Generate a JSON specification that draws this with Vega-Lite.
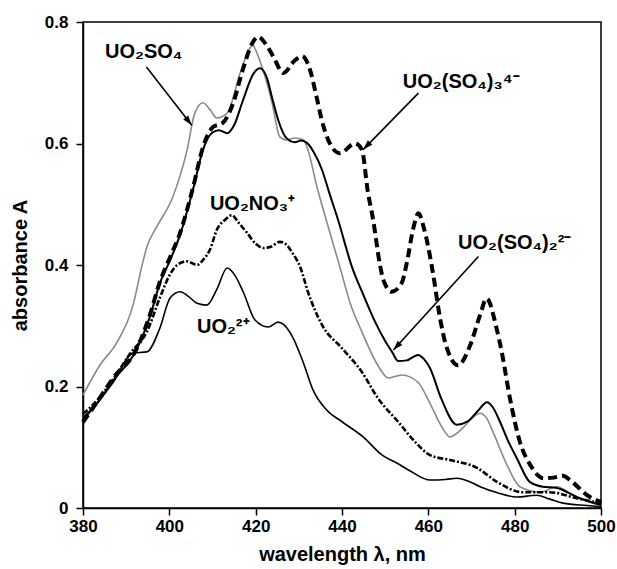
{
  "$schema": "https://vega.github.io/schema/vega-lite/v6.json",
  "width": 518,
  "height": 486,
  "autosize": "none",
  "padding": {"left": 83, "top": 22, "right": 16, "bottom": 61},
  "background": "white",
  "config": {
    "view": {"stroke": "black", "strokeWidth": 1.5},
    "font": "Liberation Sans",
    "axis": {
      "grid": false,
      "labelFlush": false,
      "labelOverlap": false,
      "domainColor": "black",
      "domainWidth": 1.5,
      "tickColor": "black",
      "tickWidth": 1.5,
      "tickSize": 7,
      "labelFont": "Liberation Sans",
      "labelFontWeight": "bold",
      "labelFontSize": 17,
      "labelColor": "black",
      "titleFont": "Liberation Sans",
      "titleFontWeight": "bold",
      "titleFontSize": 20,
      "titleColor": "black"
    }
  },
  "datasets": {
    "curves": [
      {"s": "UO2SO4", "x": 380, "y": 0.186}, {"s": "UO2SO4", "x": 383.9, "y": 0.235}, {"s": "UO2SO4", "x": 387.9, "y": 0.273}, {"s": "UO2SO4", "x": 391.6, "y": 0.334}, {"s": "UO2SO4", "x": 393.7, "y": 0.4}, {"s": "UO2SO4", "x": 394.8, "y": 0.43}, {"s": "UO2SO4", "x": 397.1, "y": 0.463}, {"s": "UO2SO4", "x": 400.8, "y": 0.512}, {"s": "UO2SO4", "x": 404.1, "y": 0.589}, {"s": "UO2SO4", "x": 405.9, "y": 0.65}, {"s": "UO2SO4", "x": 407.8, "y": 0.667}, {"s": "UO2SO4", "x": 409.5, "y": 0.655}, {"s": "UO2SO4", "x": 411, "y": 0.642}, {"s": "UO2SO4", "x": 413.4, "y": 0.65}, {"s": "UO2SO4", "x": 416.4, "y": 0.716}, {"s": "UO2SO4", "x": 418.5, "y": 0.755}, {"s": "UO2SO4", "x": 419.3, "y": 0.762}, {"s": "UO2SO4", "x": 420.5, "y": 0.745}, {"s": "UO2SO4", "x": 421.7, "y": 0.721}, {"s": "UO2SO4", "x": 423.8, "y": 0.667}, {"s": "UO2SO4", "x": 425.6, "y": 0.611}, {"s": "UO2SO4", "x": 427, "y": 0.606}, {"s": "UO2SO4", "x": 429.1, "y": 0.609}, {"s": "UO2SO4", "x": 431, "y": 0.606}, {"s": "UO2SO4", "x": 432.5, "y": 0.58}, {"s": "UO2SO4", "x": 433.8, "y": 0.54}, {"s": "UO2SO4", "x": 436.8, "y": 0.463}, {"s": "UO2SO4", "x": 439.5, "y": 0.397}, {"s": "UO2SO4", "x": 442, "y": 0.335}, {"s": "UO2SO4", "x": 444.6, "y": 0.29}, {"s": "UO2SO4", "x": 448.3, "y": 0.235}, {"s": "UO2SO4", "x": 450.7, "y": 0.214}, {"s": "UO2SO4", "x": 452.5, "y": 0.217}, {"s": "UO2SO4", "x": 453.9, "y": 0.219}, {"s": "UO2SO4", "x": 457.6, "y": 0.207}, {"s": "UO2SO4", "x": 460.4, "y": 0.172}, {"s": "UO2SO4", "x": 463, "y": 0.135}, {"s": "UO2SO4", "x": 465, "y": 0.117}, {"s": "UO2SO4", "x": 468, "y": 0.132}, {"s": "UO2SO4", "x": 470, "y": 0.147}, {"s": "UO2SO4", "x": 472, "y": 0.156}, {"s": "UO2SO4", "x": 473.5, "y": 0.148}, {"s": "UO2SO4", "x": 475, "y": 0.125}, {"s": "UO2SO4", "x": 478.2, "y": 0.071}, {"s": "UO2SO4", "x": 481.2, "y": 0.035}, {"s": "UO2SO4", "x": 485.9, "y": 0.026}, {"s": "UO2SO4", "x": 489.8, "y": 0.035}, {"s": "UO2SO4", "x": 493.5, "y": 0.021}, {"s": "UO2SO4", "x": 500, "y": 0.005},

      {"s": "UO2", "x": 380, "y": 0.145}, {"s": "UO2", "x": 383, "y": 0.17}, {"s": "UO2", "x": 387, "y": 0.207}, {"s": "UO2", "x": 391.6, "y": 0.255}, {"s": "UO2", "x": 394.8, "y": 0.257}, {"s": "UO2", "x": 397.8, "y": 0.296}, {"s": "UO2", "x": 400.2, "y": 0.346}, {"s": "UO2", "x": 402.5, "y": 0.356}, {"s": "UO2", "x": 404.5, "y": 0.348}, {"s": "UO2", "x": 406.4, "y": 0.337}, {"s": "UO2", "x": 408.7, "y": 0.334}, {"s": "UO2", "x": 411, "y": 0.36}, {"s": "UO2", "x": 413.4, "y": 0.395}, {"s": "UO2", "x": 415, "y": 0.385}, {"s": "UO2", "x": 417.1, "y": 0.356}, {"s": "UO2", "x": 419.8, "y": 0.31}, {"s": "UO2", "x": 422.9, "y": 0.298}, {"s": "UO2", "x": 425.2, "y": 0.306}, {"s": "UO2", "x": 426.5, "y": 0.302}, {"s": "UO2", "x": 428.6, "y": 0.281}, {"s": "UO2", "x": 431, "y": 0.24}, {"s": "UO2", "x": 433.3, "y": 0.194}, {"s": "UO2", "x": 436.5, "y": 0.161}, {"s": "UO2", "x": 440, "y": 0.142}, {"s": "UO2", "x": 444.9, "y": 0.117}, {"s": "UO2", "x": 449.3, "y": 0.087}, {"s": "UO2", "x": 452.7, "y": 0.074}, {"s": "UO2", "x": 456, "y": 0.06}, {"s": "UO2", "x": 460.4, "y": 0.046}, {"s": "UO2", "x": 464, "y": 0.047}, {"s": "UO2", "x": 466.6, "y": 0.049}, {"s": "UO2", "x": 469, "y": 0.045}, {"s": "UO2", "x": 472, "y": 0.035}, {"s": "UO2", "x": 476, "y": 0.025}, {"s": "UO2", "x": 480.5, "y": 0.018}, {"s": "UO2", "x": 485.1, "y": 0.021}, {"s": "UO2", "x": 488, "y": 0.015}, {"s": "UO2", "x": 491.2, "y": 0.008}, {"s": "UO2", "x": 496.8, "y": 0.004}, {"s": "UO2", "x": 500, "y": 0.002},

      {"s": "UO2NO3", "x": 380, "y": 0.155}, {"s": "UO2NO3", "x": 383, "y": 0.175}, {"s": "UO2NO3", "x": 387, "y": 0.212}, {"s": "UO2NO3", "x": 391, "y": 0.255}, {"s": "UO2NO3", "x": 394.8, "y": 0.29}, {"s": "UO2NO3", "x": 397.8, "y": 0.346}, {"s": "UO2NO3", "x": 400.2, "y": 0.385}, {"s": "UO2NO3", "x": 402, "y": 0.401}, {"s": "UO2NO3", "x": 404.1, "y": 0.406}, {"s": "UO2NO3", "x": 406.4, "y": 0.4}, {"s": "UO2NO3", "x": 408, "y": 0.41}, {"s": "UO2NO3", "x": 409.4, "y": 0.425}, {"s": "UO2NO3", "x": 411, "y": 0.458}, {"s": "UO2NO3", "x": 413, "y": 0.475}, {"s": "UO2NO3", "x": 414.5, "y": 0.482}, {"s": "UO2NO3", "x": 416, "y": 0.47}, {"s": "UO2NO3", "x": 418, "y": 0.453}, {"s": "UO2NO3", "x": 420, "y": 0.435}, {"s": "UO2NO3", "x": 421.8, "y": 0.428}, {"s": "UO2NO3", "x": 423.5, "y": 0.43}, {"s": "UO2NO3", "x": 425.6, "y": 0.438}, {"s": "UO2NO3", "x": 427.2, "y": 0.433}, {"s": "UO2NO3", "x": 428.5, "y": 0.42}, {"s": "UO2NO3", "x": 430.3, "y": 0.397}, {"s": "UO2NO3", "x": 432.1, "y": 0.356}, {"s": "UO2NO3", "x": 435.4, "y": 0.301}, {"s": "UO2NO3", "x": 440, "y": 0.263}, {"s": "UO2NO3", "x": 444.6, "y": 0.224}, {"s": "UO2NO3", "x": 448.3, "y": 0.181}, {"s": "UO2NO3", "x": 453, "y": 0.142}, {"s": "UO2NO3", "x": 456.9, "y": 0.109}, {"s": "UO2NO3", "x": 460.4, "y": 0.087}, {"s": "UO2NO3", "x": 465, "y": 0.079}, {"s": "UO2NO3", "x": 471.3, "y": 0.066}, {"s": "UO2NO3", "x": 475.9, "y": 0.043}, {"s": "UO2NO3", "x": 481.9, "y": 0.026}, {"s": "UO2NO3", "x": 488.1, "y": 0.026}, {"s": "UO2NO3", "x": 494.4, "y": 0.016}, {"s": "UO2NO3", "x": 500, "y": 0.008},

      {"s": "SO4_2", "x": 380, "y": 0.148}, {"s": "SO4_2", "x": 383, "y": 0.17}, {"s": "SO4_2", "x": 387, "y": 0.21}, {"s": "SO4_2", "x": 392.5, "y": 0.262}, {"s": "SO4_2", "x": 395.5, "y": 0.315}, {"s": "SO4_2", "x": 397.8, "y": 0.37}, {"s": "SO4_2", "x": 400, "y": 0.405}, {"s": "SO4_2", "x": 402.5, "y": 0.45}, {"s": "SO4_2", "x": 405.5, "y": 0.525}, {"s": "SO4_2", "x": 407.8, "y": 0.59}, {"s": "SO4_2", "x": 410, "y": 0.618}, {"s": "SO4_2", "x": 411.5, "y": 0.622}, {"s": "SO4_2", "x": 413.4, "y": 0.617}, {"s": "SO4_2", "x": 415, "y": 0.63}, {"s": "SO4_2", "x": 417, "y": 0.67}, {"s": "SO4_2", "x": 419.5, "y": 0.715}, {"s": "SO4_2", "x": 421, "y": 0.724}, {"s": "SO4_2", "x": 422.5, "y": 0.71}, {"s": "SO4_2", "x": 424, "y": 0.67}, {"s": "SO4_2", "x": 425.2, "y": 0.639}, {"s": "SO4_2", "x": 427, "y": 0.61}, {"s": "SO4_2", "x": 429.1, "y": 0.602}, {"s": "SO4_2", "x": 430.5, "y": 0.605}, {"s": "SO4_2", "x": 431.9, "y": 0.601}, {"s": "SO4_2", "x": 433.5, "y": 0.585}, {"s": "SO4_2", "x": 435.4, "y": 0.556}, {"s": "SO4_2", "x": 437, "y": 0.52}, {"s": "SO4_2", "x": 439.1, "y": 0.474}, {"s": "SO4_2", "x": 442.3, "y": 0.397}, {"s": "SO4_2", "x": 445, "y": 0.35}, {"s": "SO4_2", "x": 447.7, "y": 0.306}, {"s": "SO4_2", "x": 450, "y": 0.275}, {"s": "SO4_2", "x": 451.6, "y": 0.257}, {"s": "SO4_2", "x": 453, "y": 0.242}, {"s": "SO4_2", "x": 455, "y": 0.243}, {"s": "SO4_2", "x": 457.6, "y": 0.252}, {"s": "SO4_2", "x": 459, "y": 0.245}, {"s": "SO4_2", "x": 460.4, "y": 0.23}, {"s": "SO4_2", "x": 463, "y": 0.18}, {"s": "SO4_2", "x": 466.6, "y": 0.137}, {"s": "SO4_2", "x": 469, "y": 0.142}, {"s": "SO4_2", "x": 471.5, "y": 0.16}, {"s": "SO4_2", "x": 473.6, "y": 0.174}, {"s": "SO4_2", "x": 475, "y": 0.165}, {"s": "SO4_2", "x": 476.6, "y": 0.142}, {"s": "SO4_2", "x": 478.5, "y": 0.11}, {"s": "SO4_2", "x": 480.5, "y": 0.082}, {"s": "SO4_2", "x": 483.5, "y": 0.043}, {"s": "SO4_2", "x": 486.5, "y": 0.035}, {"s": "SO4_2", "x": 489.8, "y": 0.033}, {"s": "SO4_2", "x": 492.5, "y": 0.025}, {"s": "SO4_2", "x": 495.1, "y": 0.016}, {"s": "SO4_2", "x": 500, "y": 0.005},

      {"s": "SO4_3", "x": 380, "y": 0.141}, {"s": "SO4_3", "x": 383, "y": 0.172}, {"s": "SO4_3", "x": 387, "y": 0.214}, {"s": "SO4_3", "x": 392.5, "y": 0.263}, {"s": "SO4_3", "x": 395.5, "y": 0.318}, {"s": "SO4_3", "x": 397.8, "y": 0.372}, {"s": "SO4_3", "x": 400, "y": 0.41}, {"s": "SO4_3", "x": 402.5, "y": 0.453}, {"s": "SO4_3", "x": 405.5, "y": 0.528}, {"s": "SO4_3", "x": 407.8, "y": 0.594}, {"s": "SO4_3", "x": 410.1, "y": 0.627}, {"s": "SO4_3", "x": 412.4, "y": 0.634}, {"s": "SO4_3", "x": 414.8, "y": 0.667}, {"s": "SO4_3", "x": 417, "y": 0.721}, {"s": "SO4_3", "x": 419.2, "y": 0.765}, {"s": "SO4_3", "x": 420.6, "y": 0.776}, {"s": "SO4_3", "x": 422.2, "y": 0.765}, {"s": "SO4_3", "x": 424.1, "y": 0.743}, {"s": "SO4_3", "x": 426.4, "y": 0.716}, {"s": "SO4_3", "x": 429.1, "y": 0.737}, {"s": "SO4_3", "x": 430.7, "y": 0.744}, {"s": "SO4_3", "x": 432.6, "y": 0.721}, {"s": "SO4_3", "x": 434.1, "y": 0.677}, {"s": "SO4_3", "x": 435.3, "y": 0.639}, {"s": "SO4_3", "x": 436.8, "y": 0.606}, {"s": "SO4_3", "x": 439.5, "y": 0.584}, {"s": "SO4_3", "x": 443, "y": 0.6}, {"s": "SO4_3", "x": 444.6, "y": 0.59}, {"s": "SO4_3", "x": 446, "y": 0.52}, {"s": "SO4_3", "x": 447.2, "y": 0.475}, {"s": "SO4_3", "x": 448.8, "y": 0.4}, {"s": "SO4_3", "x": 449.6, "y": 0.375}, {"s": "SO4_3", "x": 451.5, "y": 0.356}, {"s": "SO4_3", "x": 453.8, "y": 0.37}, {"s": "SO4_3", "x": 455, "y": 0.403}, {"s": "SO4_3", "x": 456.5, "y": 0.46}, {"s": "SO4_3", "x": 457.7, "y": 0.485}, {"s": "SO4_3", "x": 459, "y": 0.46}, {"s": "SO4_3", "x": 461, "y": 0.39}, {"s": "SO4_3", "x": 462.7, "y": 0.313}, {"s": "SO4_3", "x": 464, "y": 0.27}, {"s": "SO4_3", "x": 466.9, "y": 0.235}, {"s": "SO4_3", "x": 469.7, "y": 0.268}, {"s": "SO4_3", "x": 472, "y": 0.318}, {"s": "SO4_3", "x": 473.5, "y": 0.345}, {"s": "SO4_3", "x": 475.8, "y": 0.296}, {"s": "SO4_3", "x": 477, "y": 0.257}, {"s": "SO4_3", "x": 478.9, "y": 0.181}, {"s": "SO4_3", "x": 481.2, "y": 0.109}, {"s": "SO4_3", "x": 483.6, "y": 0.071}, {"s": "SO4_3", "x": 486.7, "y": 0.049}, {"s": "SO4_3", "x": 489, "y": 0.05}, {"s": "SO4_3", "x": 491.2, "y": 0.053}, {"s": "SO4_3", "x": 493, "y": 0.045}, {"s": "SO4_3", "x": 496.8, "y": 0.021}, {"s": "SO4_3", "x": 500, "y": 0.01}
    ],
    "arrows": [
      {"id": "a1", "x": 394.7, "y": 0.726, "x2": 405.2, "y2": 0.63},
      {"id": "a2", "x": 457.7, "y": 0.683, "x2": 444.9, "y2": 0.59},
      {"id": "a3", "x": 471.6, "y": 0.414, "x2": 451.9, "y2": 0.26}
    ],
    "labels": [
      {"label": "UO₂SO₄", "x": 385.1, "y": 0.741},
      {"label": "UO₂(SO₄)₃⁴⁻", "x": 454.1, "y": 0.691},
      {"label": "UO₂(SO₄)₂²⁻", "x": 466.9, "y": 0.426},
      {"label": "UO₂NO₃⁺", "x": 409.4, "y": 0.49},
      {"label": "UO₂²⁺", "x": 406.4, "y": 0.288}
    ]
  },
  "layer": [
    {
      "data": {"name": "curves"},
      "transform": [{"filter": "datum.s === 'UO2SO4'"}],
      "mark": {"type": "line", "color": "#8a8a8a", "strokeWidth": 1.6, "interpolate": "monotone"},
      "encoding": {
        "x": {"field": "x", "type": "quantitative", "scale": {"domain": [380, 500], "nice": false, "zero": false},
          "axis": {"values": [380, 400, 420, 440, 460, 480, 500], "title": "wavelength λ, nm", "labelPadding": 3, "titleY": 46, "titleBaseline": "middle"}},
        "y": {"field": "y", "type": "quantitative", "scale": {"domain": [0, 0.8], "nice": false},
          "axis": {"values": [0, 0.2, 0.4, 0.6, 0.8], "labelExpr": "datum.value == 0 ? '0' : format(datum.value, '.1f')", "title": "absorbance A", "labelPadding": 8, "titleX": -63, "titleY": 243, "titleBaseline": "middle", "titleAngle": -90}}
      }
    },
    {
      "data": {"name": "curves"},
      "transform": [{"filter": "datum.s === 'UO2'"}],
      "mark": {"type": "line", "color": "black", "strokeWidth": 1.6, "interpolate": "monotone"},
      "encoding": {"x": {"field": "x", "type": "quantitative"}, "y": {"field": "y", "type": "quantitative"}}
    },
    {
      "data": {"name": "curves"},
      "transform": [{"filter": "datum.s === 'UO2NO3'"}],
      "mark": {"type": "line", "color": "black", "strokeWidth": 2.6, "strokeDash": [6, 2, 2, 2], "interpolate": "monotone"},
      "encoding": {"x": {"field": "x", "type": "quantitative"}, "y": {"field": "y", "type": "quantitative"}}
    },
    {
      "data": {"name": "curves"},
      "transform": [{"filter": "datum.s === 'SO4_2'"}],
      "mark": {"type": "line", "color": "black", "strokeWidth": 2, "interpolate": "monotone"},
      "encoding": {"x": {"field": "x", "type": "quantitative"}, "y": {"field": "y", "type": "quantitative"}}
    },
    {
      "data": {"name": "curves"},
      "transform": [{"filter": "datum.s === 'SO4_3'"}],
      "mark": {"type": "line", "color": "black", "strokeWidth": 4, "strokeDash": [9, 5], "interpolate": "monotone"},
      "encoding": {"x": {"field": "x", "type": "quantitative"}, "y": {"field": "y", "type": "quantitative"}}
    },
    {
      "data": {"name": "arrows"},
      "mark": {"type": "rule", "color": "black", "strokeWidth": 1.6},
      "encoding": {
        "x": {"field": "x", "type": "quantitative"}, "y": {"field": "y", "type": "quantitative"},
        "x2": {"field": "x2"}, "y2": {"field": "y2"}
      }
    },
    {
      "data": {"name": "arrows"},
      "transform": [{"filter": "datum.id === 'a1'"}],
      "mark": {"type": "point", "shape": "M0,0L-0.35,1.1L0.35,1.1Z", "filled": true, "color": "black", "opacity": 1, "size": 320, "angle": 142.3},
      "encoding": {"x": {"field": "x2", "type": "quantitative"}, "y": {"field": "y2", "type": "quantitative"}}
    },
    {
      "data": {"name": "arrows"},
      "transform": [{"filter": "datum.id === 'a2'"}],
      "mark": {"type": "point", "shape": "M0,0L-0.35,1.1L0.35,1.1Z", "filled": true, "color": "black", "opacity": 1, "size": 320, "angle": 224.5},
      "encoding": {"x": {"field": "x2", "type": "quantitative"}, "y": {"field": "y2", "type": "quantitative"}}
    },
    {
      "data": {"name": "arrows"},
      "transform": [{"filter": "datum.id === 'a3'"}],
      "mark": {"type": "point", "shape": "M0,0L-0.35,1.1L0.35,1.1Z", "filled": true, "color": "black", "opacity": 1, "size": 320, "angle": 222.3},
      "encoding": {"x": {"field": "x2", "type": "quantitative"}, "y": {"field": "y2", "type": "quantitative"}}
    },
    {
      "data": {"name": "labels"},
      "mark": {"type": "text", "align": "left", "baseline": "alphabetic", "font": "Liberation Sans", "fontWeight": "bold", "fontSize": 20, "color": "black"},
      "encoding": {
        "x": {"field": "x", "type": "quantitative"}, "y": {"field": "y", "type": "quantitative"},
        "text": {"field": "label"}
      }
    }
  ]
}
